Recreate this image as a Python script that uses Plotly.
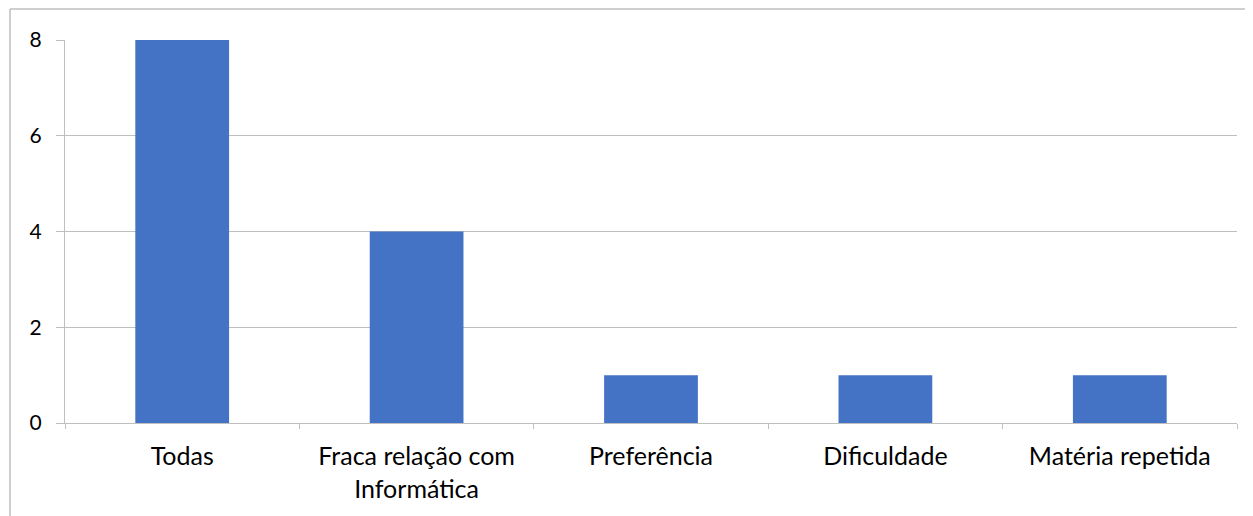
import plotly.graph_objects as go

categories = ["Todas", "Fraca relação com<br>Informática", "Preferência", "Dificuldade", "Matéria repetida"]
values = [8, 4, 1, 1, 1]
y_ticks = [0, 2, 4, 6, 8]

# page has an 8px body margin, so the figure is drawn at (8, 8)
OFF = 8
W, H = 1253 - OFF, 516 - OFF
L, R, T, B = 65 - OFF, 16, 40 - OFF, 93
pw, ph = W - L - R, H - T - B

def px_x(x):
    return (x - OFF - L) / pw

def px_y(y):
    return (H - B - (y - OFF)) / ph

fig = go.Figure(go.Bar(x=categories, y=values, marker_color="#4472C4", marker_line_width=0))

grid = "#BFBFBF"
fig.update_layout(
    width=W, height=H,
    margin=dict(l=L, r=R, t=T, b=B),
    plot_bgcolor="white", paper_bgcolor="white",
    bargap=0.6,
    showlegend=False,
    font=dict(family="Lato, Open Sans, sans-serif", size=23, color="#000000"),
)
fig.update_xaxes(
    showgrid=False, showline=True, linecolor=grid, linewidth=1,
    ticks="outside", tickson="boundaries", ticklen=5, tickcolor=grid,
    tickangle=0, tickfont=dict(size=25), ticklabelstandoff=11,
)
fig.update_yaxes(
    range=[0, 8], tickvals=y_ticks, showgrid=True, gridcolor=grid, gridwidth=1,
    showline=True, linecolor=grid, linewidth=1, ticks="outside", ticklen=8,
    tickcolor=grid, zeroline=False, ticklabelstandoff=10, tickfont=dict(size=21),
)
# outer chart frame (partially visible)
fig.add_shape(type="line", xref="paper", yref="paper",
              x0=px_x(10), x1=px_x(1253), y0=px_y(9), y1=px_y(9),
              line=dict(color="#BFBFBF", width=1.5))
fig.add_shape(type="line", xref="paper", yref="paper",
              x0=px_x(10), x1=px_x(10), y0=px_y(9), y1=px_y(516),
              line=dict(color="#BFBFBF", width=1.5))

fig.write_html("out.html")
